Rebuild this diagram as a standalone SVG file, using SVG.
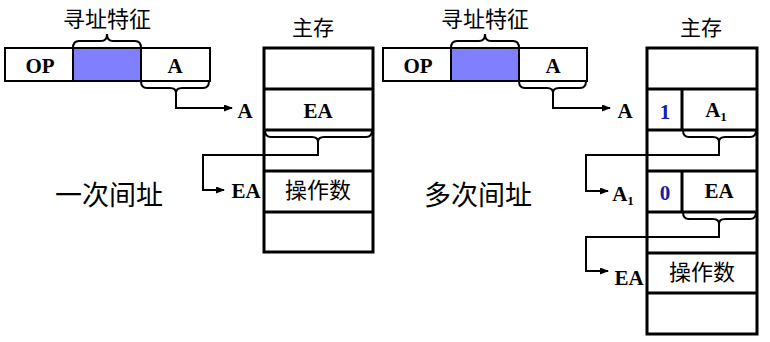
<svg xmlns="http://www.w3.org/2000/svg" width="770" height="342" viewBox="0 0 770 342">
<defs>
<marker id="ah" markerWidth="9" markerHeight="7" refX="8" refY="3.5" orient="auto" markerUnits="userSpaceOnUse">
<path d="M0,0 L9,3.5 L0,7 Z" fill="#000"/>
</marker>
<style>
.box{fill:#fff;stroke:#000;stroke-width:2}
.mem{fill:#fff;stroke:#000;stroke-width:3}
.blue{fill:#8080ff;stroke:#000;stroke-width:2}
.br{fill:none;stroke:#000;stroke-width:2}
.ln{fill:none;stroke:#000;stroke-width:2}
.b{font-family:"Liberation Serif",serif;font-weight:bold;font-size:21px;fill:#000}
.sub{font-size:13px}
.num{font-family:"Liberation Serif",serif;font-weight:bold;font-size:21px;fill:#1a1aa8}
.cn{font-family:"Noto Sans CJK SC","Noto Sans",sans-serif;fill:#000}
</style>
</defs>
<rect width="770" height="342" fill="#fff"/>

<g id="left-instr">
<rect class="box" x="5" y="48" width="205" height="33"/>
<rect class="blue" x="73" y="48" width="68" height="33"/>
<text class="b" x="40" y="73" text-anchor="middle">OP</text>
<text class="b" x="175" y="73" text-anchor="middle">A</text>
<text class="cn" x="107" y="27" font-size="22" text-anchor="middle">寻址特征</text>
</g>

<g id="left-mem">
<text class="cn" x="313" y="35" font-size="21" text-anchor="middle">主存</text>
<rect class="mem" x="264" y="48" width="109" height="204"/>
<path class="mem" d="M264,89 H373 M264,130 H373 M264,171 H373 M264,212 H373"/>
<text class="b" x="318" y="118" text-anchor="middle">EA</text>
<text class="cn" x="318" y="198" font-size="22" text-anchor="middle">操作数</text>
<text class="b" x="245" y="118" text-anchor="middle">A</text>
<text class="b" x="246" y="198" text-anchor="middle">EA</text>
</g>

<g id="left-title">
<text class="cn" x="109" y="205" font-size="27" text-anchor="middle">一次间址</text>
</g>

<g id="right-instr">
<rect class="box" x="383" y="48" width="204" height="33"/>
<rect class="blue" x="451" y="48" width="68" height="33"/>
<text class="b" x="418" y="73" text-anchor="middle">OP</text>
<text class="b" x="553" y="73" text-anchor="middle">A</text>
<text class="cn" x="485" y="27" font-size="22" text-anchor="middle">寻址特征</text>
</g>

<g id="right-mem">
<text class="cn" x="701" y="35" font-size="21" text-anchor="middle">主存</text>
<rect class="mem" x="647" y="48" width="110" height="286"/>
<path class="mem" d="M647,89 H757 M647,130 H757 M647,171 H757 M647,212 H757 M647,253 H757 M647,293 H757 M682,89 V130 M682,171 V212"/>
<text class="num" x="665" y="119" text-anchor="middle">1</text>
<text class="b" x="716" y="117" text-anchor="middle">A<tspan class="sub" dy="4">1</tspan></text>
<text class="num" x="665" y="200" text-anchor="middle">0</text>
<text class="b" x="719" y="198" text-anchor="middle">EA</text>
<text class="cn" x="702" y="280" font-size="22" text-anchor="middle">操作数</text>
<text class="b" x="625" y="118" text-anchor="middle">A</text>
<text class="b" x="623" y="201" text-anchor="middle">A<tspan class="sub" dy="4">1</tspan></text>
<text class="b" x="629" y="285" text-anchor="middle">EA</text>
</g>

<g id="right-title">
<text class="cn" x="478" y="205" font-size="27" text-anchor="middle">多次间址</text>
</g>

<g id="connectors">
<path class="br" d="M73,48 Q73,41 79,41 L101,41 Q107,41 107,34 Q107,41 113,41 L135,41 Q141,41 141,48"/>
<path class="br" d="M141,81 Q141,88 147,88 L170,88 Q176,88 176,93 Q176,88 182,88 L203,88 Q209,88 209,81"/>
<path class="ln" d="M176,92 V108 H232" marker-end="url(#ah)"/>
<path class="br" d="M265,130 Q265,137 271,137 L312,137 Q318,137 318,142 Q318,137 324,137 L366,137 Q372,137 372,130"/>
<path class="ln" d="M318,141 V155 H203 V190 H224" marker-end="url(#ah)"/>

<path class="br" d="M451,48 Q451,41 457,41 L479,41 Q485,41 485,34 Q485,41 491,41 L513,41 Q519,41 519,48"/>
<path class="br" d="M519,81 Q519,88 525,88 L547,88 Q553,88 553,93 Q553,88 559,88 L580,88 Q586,88 586,81"/>
<path class="ln" d="M553,92 V108 H610" marker-end="url(#ah)"/>
<path class="br" d="M683,130 Q683,137 689,137 L713,137 Q719,137 719,142 Q719,137 725,137 L750,137 Q756,137 756,130"/>
<path class="ln" d="M719,141 V155 H586 V191 H608" marker-end="url(#ah)"/>
<path class="br" d="M683,212 Q683,219 689,219 L713,219 Q719,219 719,224 Q719,219 725,219 L750,219 Q756,219 756,212"/>
<path class="ln" d="M719,223 V237 H586 V271 H608" marker-end="url(#ah)"/>
</g>
</svg>
